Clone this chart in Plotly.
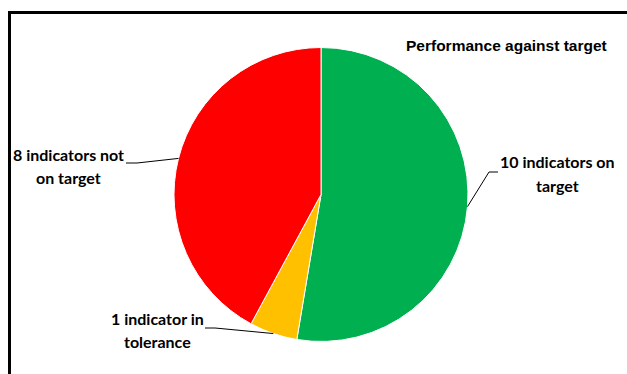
import math
import plotly.graph_objects as go

# Data
categories = ["10 indicators on target", "1 indicator in tolerance", "8 indicators not on target"]
values = [10, 1, 8]
colors = ["#00B050", "#FFC000", "#FF0000"]
label_lines = [["10 indicators on", "target"], ["1 indicator in", "tolerance"], ["8 indicators not", "on target"]]
title_text = "Performance against target"

W, H = 627, 374
def px(x):
    return x / W
def py(y):
    return 1 - y / H

# pie geometry (pixels)
cx, cy, r = 321, 194.5, 147

fig = go.Figure(go.Pie(
    labels=categories, values=values, sort=False, direction="clockwise", rotation=0,
    marker=dict(colors=colors, line=dict(color="white", width=1)),
    textinfo="none", hoverinfo="label+value", showlegend=False,
    domain=dict(x=[px(cx - r), px(cx + r)], y=[py(cy + r), py(cy - r)]),
))

# label placement (pixels): text centre x, first-line y, elbow points
label_pos = [
    dict(x=557, y=162, elbow=[(498, 172), (489, 172)]),
    dict(x=157, y=318, elbow=[(205, 328), (215, 328)]),
    dict(x=68, y=154, elbow=[(126, 163), (137, 163)]),
]

total = sum(values)
start = 0.0
shapes = []
annotations = []
for v, lines, pos in zip(values, label_lines, label_pos):
    mid = start + v / total * 360 / 2
    start += v / total * 360
    a = math.radians(mid)
    ex, ey = cx + r * math.sin(a), cy - r * math.cos(a)
    pts = pos["elbow"] + [(ex, ey)]
    path = "M " + " L ".join(f"{px(x)},{py(y)}" for x, y in pts)
    shapes.append(dict(type="path", xref="paper", yref="paper", path=path,
                       line=dict(color="#000000", width=1)))
    for i, t in enumerate(lines):
        annotations.append(dict(text=t, x=px(pos["x"]), y=py(pos["y"] + 23 * i),
                                xref="paper", yref="paper", showarrow=False,
                                xanchor="center", yanchor="middle",
                                font=dict(family="Lato", size=16, color="#000000", weight="bold")))

annotations.append(dict(text=title_text, x=px(506), y=py(45),
                        xref="paper", yref="paper", showarrow=False,
                        xanchor="center", yanchor="middle",
                        font=dict(family="Liberation Sans", size=15.5, color="#000000", weight="bold")))

# chart border
shapes.append(dict(type="rect", xref="paper", yref="paper",
                   x0=px(9.5), x1=px(W + 20), y0=py(12.5), y1=py(H + 20),
                   line=dict(color="#000000", width=3), fillcolor="rgba(0,0,0,0)"))

fig.update_layout(width=W, height=H, margin=dict(l=0, r=0, t=0, b=0),
                  paper_bgcolor="white", plot_bgcolor="white",
                  shapes=shapes, annotations=annotations)

fig.write_html("out.html")
